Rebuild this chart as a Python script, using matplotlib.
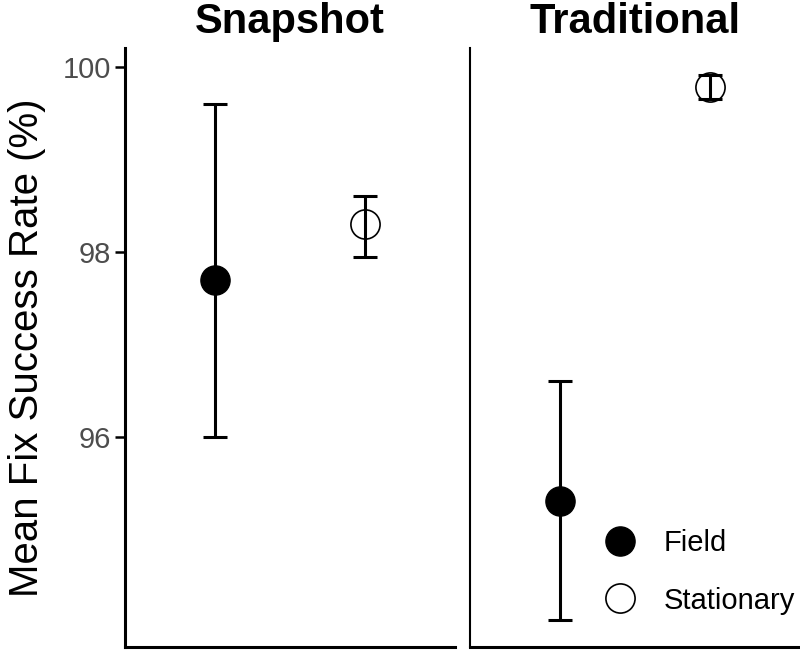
import matplotlib.pyplot as plt
from matplotlib.lines import Line2D

plt.rcParams['font.family'] = ['Liberation Sans', 'DejaVu Sans']

panels = ['Snapshot', 'Traditional']
groups = ['Field', 'Stationary']
# mean, lower, upper for each panel (Field, Stationary)
mean = {'Snapshot': [97.7, 98.3], 'Traditional': [95.3, 99.78]}
lower = {'Snapshot': [96.0, 97.95], 'Traditional': [94.02, 99.65]}
upper = {'Snapshot': [99.6, 98.6], 'Traditional': [96.6, 99.91]}
yticks = [96, 98, 100]

fig = plt.figure(figsize=(8, 6.52), dpi=100)
ax1 = fig.add_axes([0.156, 0.008, 0.413, 0.918])
ax2 = fig.add_axes([0.5875, 0.008, 0.4125, 0.918], sharey=ax1)

lo = min(min(v) for v in lower.values())
hi = max(max(v) for v in upper.values())
pad = (hi - lo) * 0.05

for ax, name in zip([ax1, ax2], panels):
    for i, g in enumerate(groups):
        x = i + 1
        m = mean[name][i]
        err = [[m - lower[name][i]], [upper[name][i] - m]]
        ax.errorbar([x], [m], yerr=err, fmt='none', ecolor='black',
                    elinewidth=2.2, capsize=8.5, capthick=2.2, zorder=2)
        if g == 'Field':
            ax.plot([x], [m], 'o', ms=21, mfc='black', mec='black', zorder=3)
        else:
            ax.plot([x], [m], 'o', ms=21, mfc='none', mec='black', mew=1.2, zorder=3)
    ax.set_xlim(0.4, 2.6)
    ax.set_ylim(lo - pad, hi + pad)
    ax.set_title(name, fontsize=30, fontweight='bold', pad=11)
    for s in ['top', 'right']:
        ax.spines[s].set_visible(False)
    ax.spines['left'].set_linewidth(2.2)
    ax.spines['bottom'].set_linewidth(2.2)
    ax.set_xticks([])

ax1.set_yticks(yticks)
ax1.tick_params(axis='y', length=7, width=1.8, labelsize=21, labelcolor='#4D4D4D', pad=3)
ax1.set_ylabel('Mean Fix Success Rate (%)', fontsize=29, labelpad=12)
ax2.spines['left'].set_linewidth(1.5)
ax2.tick_params(axis='y', left=False, labelleft=False)

handles = [
    Line2D([], [], ls='none', marker='o', ms=21, mfc='black', mec='black'),
    Line2D([], [], ls='none', marker='o', ms=21, mfc='none', mec='black', mew=1.2),
]
ax2.legend(handles, groups, loc='lower right', frameon=False, fontsize=21,
           bbox_to_anchor=(1.065, 0.01), handletextpad=0.5, labelspacing=1.0)

fig.savefig('out.png', dpi=100)
